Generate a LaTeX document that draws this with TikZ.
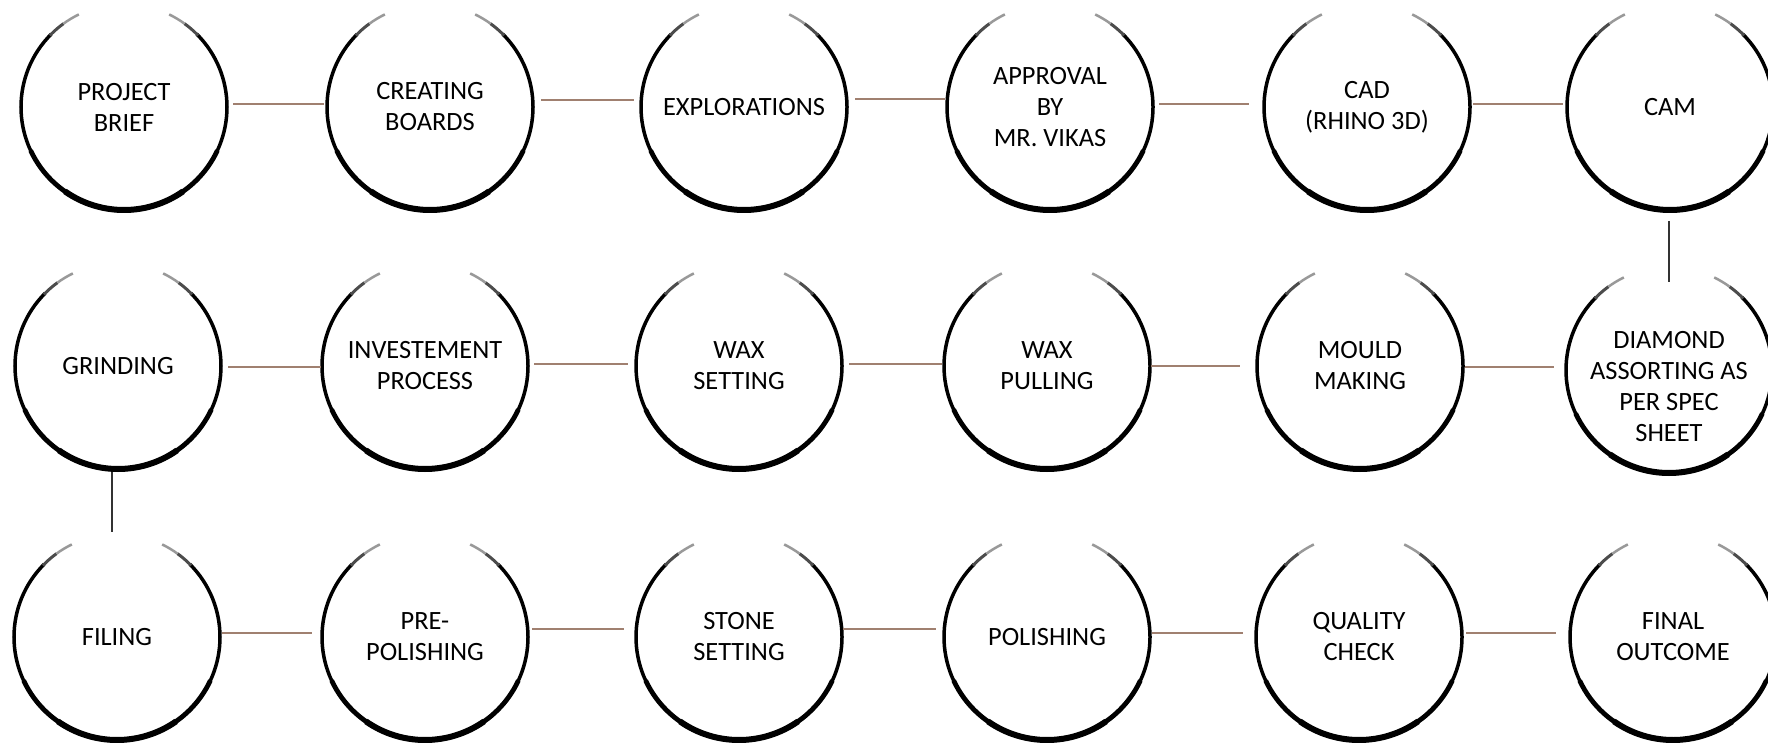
\documentclass[tikz,border=0pt]{standalone}
\usepackage{fontspec}
\setmainfont{Carlito}
\begin{document}
\begin{tikzpicture}[x=1pt,y=-1pt,
  stage/.style={circle,minimum size=206pt,inner sep=0pt,align=center,
    font=\fontsize{26.4pt}{31pt}\selectfont},
  hlink/.style={draw={rgb,255:red,160;green,128;blue,112},line width=1.6pt},
  vlink/.style={draw=black!80,line width=1.6pt}]
\useasboundingbox (0,0) rectangle (1768,743);
\def\ringR{103pt}
\newcommand\ringat[1]{%
  \draw[line width=3.5pt] ([shift={(135:\ringR)}]#1) arc[start angle=135,end angle=405,radius=\ringR];
  \draw[line width=4.8pt] ([shift={(205:\ringR)}]#1) arc[start angle=205,end angle=335,radius=\ringR];
  \draw[line width=6pt] ([shift={(235:\ringR)}]#1) arc[start angle=235,end angle=305,radius=\ringR];
  \draw[line width=3pt,black!70] ([shift={(126:\ringR)}]#1) arc[start angle=126,end angle=136,radius=\ringR];
  \draw[line width=2.5pt,black!40] ([shift={(116:\ringR)}]#1) arc[start angle=116,end angle=126,radius=\ringR];
  \draw[line width=3pt,black!70] ([shift={(44:\ringR)}]#1) arc[start angle=44,end angle=54,radius=\ringR];
  \draw[line width=2.5pt,black!40] ([shift={(54:\ringR)}]#1) arc[start angle=54,end angle=64,radius=\ringR];
}
% row 1
\node[stage] (a1) at (124,107) {PROJECT\\BRIEF};
\node[stage] (a2) at (430,107) {CREATING\\BOARDS};
\node[stage] (a3) at (744,107) {EXPLORATIONS};
\node[stage] (a4) at (1050,107) {APPROVAL\\BY\\MR. VIKAS};
\node[stage] (a5) at (1367,107) {CAD\\(RHINO 3D)};
\node[stage] (a6) at (1670,107) {CAM};
% row 2
\node[stage] (b1) at (118,366) {GRINDING};
\node[stage] (b2) at (425,366) {INVESTEMENT\\PROCESS};
\node[stage] (b3) at (739,366) {WAX\\SETTING};
\node[stage] (b4) at (1047,366) {WAX\\PULLING};
\node[stage] (b5) at (1360,366) {MOULD\\MAKING};
\node[stage] (b6) at (1669,387) {DIAMOND\\ASSORTING AS\\PER SPEC\\SHEET};
\coordinate (b6r) at (1669,370);
% row 3
\node[stage] (c1) at (117,637) {FILING};
\node[stage] (c2) at (425,637) {PRE-\\POLISHING};
\node[stage] (c3) at (739,637) {STONE\\SETTING};
\node[stage] (c4) at (1047,637) {POLISHING};
\node[stage] (c5) at (1359,637) {QUALITY\\CHECK};
\node[stage] (c6) at (1673,637) {FINAL\\OUTCOME};
\foreach \n in {a1,a2,a3,a4,a5,a6,b1,b2,b3,b4,b5,c1,c2,c3,c4,c5,c6}{\ringat{\n.center}}
\ringat{b6r}
% connectors
\draw[hlink] ([shift={(109,-3)}]a1.center) -- ([shift={(-106,-3)}]a2.center);
\draw[hlink] ([shift={(111,-7)}]a2.center) -- ([shift={(-110,-7)}]a3.center);
\draw[hlink] ([shift={(111,-8)}]a3.center) -- ([shift={(-105,-8)}]a4.center);
\draw[hlink] ([shift={(109,-3)}]a4.center) -- ([shift={(-118,-3)}]a5.center);
\draw[hlink] ([shift={(106,-3)}]a5.center) -- ([shift={(-107,-3)}]a6.center);
\draw[hlink] ([shift={(110,1)}]b1.center) -- ([shift={(-104,1)}]b2.center);
\draw[hlink] ([shift={(109,-2)}]b2.center) -- ([shift={(-111,-2)}]b3.center);
\draw[hlink] ([shift={(110,-2)}]b3.center) -- ([shift={(-105,-2)}]b4.center);
\draw[hlink] ([shift={(104,0)}]b4.center) -- ([shift={(-120,0)}]b5.center);
\draw[hlink] ([shift={(105,1)}]b5.center) -- ([shift={(-115,-3)}]b6r);
\draw[hlink] ([shift={(105,-4)}]c1.center) -- ([shift={(-113,-4)}]c2.center);
\draw[hlink] ([shift={(107,-8)}]c2.center) -- ([shift={(-115,-8)}]c3.center);
\draw[hlink] ([shift={(104,-8)}]c3.center) -- ([shift={(-111,-8)}]c4.center);
\draw[hlink] ([shift={(105,-4)}]c4.center) -- ([shift={(-116,-4)}]c5.center);
\draw[hlink] ([shift={(107,-4)}]c5.center) -- ([shift={(-117,-4)}]c6.center);
\draw[vlink] ([shift={(-1,114)}]a6.center) -- ([shift={(0,-88)}]b6r);
\draw[vlink] ([shift={(-6,106)}]b1.center) -- ([shift={(-5,-105)}]c1.center);
\end{tikzpicture}
\end{document}
